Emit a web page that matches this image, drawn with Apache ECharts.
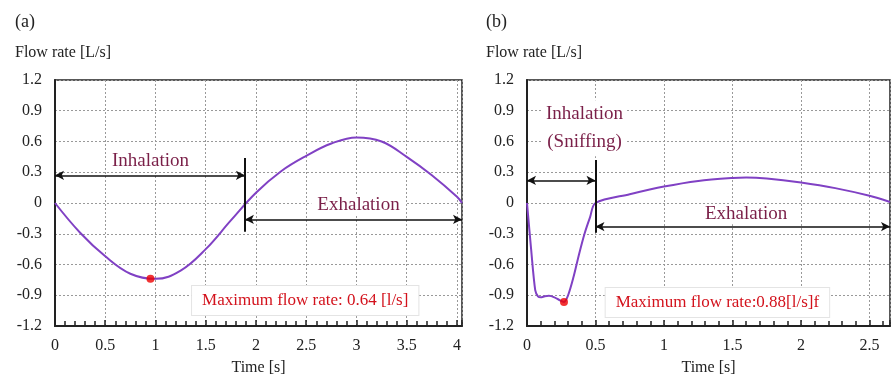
<!DOCTYPE html>
<html>
<head>
<meta charset="utf-8">
<script src="https://cdn.jsdelivr.net/npm/echarts@6/dist/echarts.min.js"></script>
<style>
  html, body { margin: 0; padding: 0; background: #fff; }
  #chart { width: 891px; height: 383px; }
</style>
</head>
<body>
<div id="chart"></div>
<script>
// panel (a): normal breathing
const timeA = [0, 0.25, 0.5, 0.75, 1.0, 1.25, 1.5, 1.75, 2.0, 2.25, 2.5, 2.75, 3.0, 3.25, 3.5, 3.75, 4.0, 4.05];
const flowA = [0, -0.29, -0.52, -0.69, -0.74, -0.66, -0.45, -0.17, 0.1, 0.31, 0.46, 0.58, 0.64, 0.6, 0.45, 0.27, 0.06, 0];
const peakA = [0.95, -0.74];

// panel (b): sniffing
const timeB = [0, 0.03, 0.06, 0.08, 0.1, 0.13, 0.16, 0.2, 0.24, 0.27, 0.3, 0.34, 0.38, 0.42, 0.46, 0.5,
  0.75, 1.0, 1.25, 1.5, 1.6, 1.75, 2.0, 2.25, 2.5, 2.65];
const flowB = [0, -0.45, -0.85, -0.91, -0.92, -0.91, -0.905, -0.92, -0.95, -0.965, -0.9, -0.72, -0.5, -0.3, -0.14, 0,
  0.085, 0.16, 0.215, 0.245, 0.25, 0.24, 0.2, 0.145, 0.07, 0.01];
const peakB = [0.27, -0.965];

const xMaxA = 4.05, xMaxB = 2.65;
const yTicks = ['1.2', '0.9', '0.6', '0.3', '0', '-0.3', '-0.6', '-0.9', '-1.2'];

// annotations (data coords)
const splitA = 1.89, splitB = 0.5;
const inhaleArrowY = [0.27, 0.22];
const exhaleArrowY = [-0.16, -0.23];
const dividerY = [[0.44, -0.28], [0.42, -0.29]];
const inhaleLabel = [[0.95, 0.41, 'Inhalation'], [0.42, 0.73, 'Inhalation\n(Sniffing)']];
const exhaleLabel = [[3.02, -0.02, 'Exhalation'], [1.6, -0.11, 'Exhalation']];
const maxLabel = [[2.49, -0.95, 'Maximum flow rate: 0.64 [l/s]'], [1.39, -0.97, 'Maximum flow rate:0.88[l/s]f']];

const FONT = '"Liberation Serif", "DejaVu Serif", serif';
const curveColor = '#8041c4';
const maroon = '#7a1f48';
const red = '#d3121c';

const chart = echarts.init(document.getElementById('chart'));

function xAxisFor(idx, max) {
  return {
    type: 'value', gridIndex: idx, min: 0, max: max, interval: 0.5,
    name: 'Time [s]', nameLocation: 'middle', nameGap: 34,
    nameTextStyle: { fontFamily: FONT, fontSize: 16, color: '#222' },
    axisLine: { onZero: false, lineStyle: { color: '#222', width: 2 } },
    axisTick: { show: true, inside: true, length: 6, lineStyle: { color: '#222', width: 1.5 } },
    minorTick: { show: true, splitNumber: 5, length: 5, lineStyle: { color: '#222', width: 1.5 } },
    axisLabel: { showMaxLabel: false, margin: 12, fontFamily: FONT, fontSize: 16, color: '#222',
      formatter: v => String(+v.toFixed(1)) },
    splitLine: { show: true, lineStyle: { color: '#999', type: [2, 2], width: 1 } }
  };
}

function yAxisFor(idx) {
  return {
    type: 'value', gridIndex: idx, min: -1.2, max: 1.2, interval: 0.3,
    axisLine: { onZero: false, lineStyle: { color: '#222', width: 2 } },
    axisTick: { show: false },
    axisLabel: { margin: 13, fontFamily: FONT, fontSize: 16, color: '#222',
      formatter: v => yTicks.find(t => Math.abs(+t - v) < 1e-6) || '' },
    splitLine: { show: true, lineStyle: { color: '#999', type: [2, 2], width: 1 } }
  };
}

function annotations(i, split, xMax) {
  const arrowStyle = { color: '#111', width: 1.5, type: 'solid' };
  return {
    markLine: {
      silent: true, animation: false,
      label: { show: false },
      data: [
        [{ coord: [0, inhaleArrowY[i]], symbol: 'arrow', lineStyle: arrowStyle },
         { coord: [split, inhaleArrowY[i]], symbol: 'arrow' }],
        [{ coord: [split, exhaleArrowY[i]], symbol: 'arrow', lineStyle: arrowStyle },
         { coord: [xMax, exhaleArrowY[i]], symbol: 'arrow' }],
        [{ coord: [split, dividerY[i][0]], symbol: 'none', lineStyle: { color: '#111', width: 2, type: 'solid' } },
         { coord: [split, dividerY[i][1]], symbol: 'none' }]
      ],
      symbolSize: [7, 9]
    },
    markPoint: {
      silent: true, animation: false,
      symbol: 'rect', symbolSize: 0,
      data: [
        { coord: [inhaleLabel[i][0], inhaleLabel[i][1]],
          label: { show: true, position: 'inside', formatter: inhaleLabel[i][2], fontFamily: FONT,
            fontSize: 19, color: maroon, lineHeight: i === 1 ? 28 : 20, backgroundColor: '#fff', padding: [0, 4] } },
        { coord: [exhaleLabel[i][0], exhaleLabel[i][1]],
          label: { show: true, position: 'inside', formatter: exhaleLabel[i][2], fontFamily: FONT,
            fontSize: 19, color: maroon, lineHeight: 20, backgroundColor: '#fff', padding: [0, 6] } },
        { coord: [maxLabel[i][0], maxLabel[i][1]],
          label: { show: true, position: 'inside', formatter: maxLabel[i][2], fontFamily: FONT,
            fontSize: 17, color: red, backgroundColor: '#fff', borderColor: '#e4e4e4', borderWidth: 1,
            padding: [6, 10] } }
      ]
    }
  };
}

chart.setOption({
  animation: false,
  textStyle: { fontFamily: FONT },
  title: [
    { text: '(a)', left: 10, top: 8, textStyle: { fontFamily: FONT, fontSize: 18, fontWeight: 'normal', color: '#222' } },
    { text: 'Flow rate [L/s]', left: 10, top: 40, textStyle: { fontFamily: FONT, fontSize: 16, fontWeight: 'normal', color: '#222' } },
    { text: '(b)', left: 481, top: 8, textStyle: { fontFamily: FONT, fontSize: 18, fontWeight: 'normal', color: '#222' } },
    { text: 'Flow rate [L/s]', left: 481, top: 40, textStyle: { fontFamily: FONT, fontSize: 16, fontWeight: 'normal', color: '#222' } }
  ],
  grid: [
    { left: 55, top: 80, width: 407, height: 246, show: true, borderColor: '#222', borderWidth: 1.5 },
    { left: 527, top: 80, width: 363, height: 246, show: true, borderColor: '#222', borderWidth: 1.5 }
  ],
  xAxis: [xAxisFor(0, xMaxA), xAxisFor(1, xMaxB)],
  yAxis: [yAxisFor(0), yAxisFor(1)],
  series: [
    Object.assign({
      type: 'line', xAxisIndex: 0, yAxisIndex: 0, smooth: 0.4, showSymbol: false,
      lineStyle: { color: curveColor, width: 2 },
      data: timeA.map((t, i) => [t, flowA[i]]), z: 3
    }, annotations(0, splitA, xMaxA)),
    Object.assign({
      type: 'line', xAxisIndex: 1, yAxisIndex: 1, smooth: 0.3, showSymbol: false,
      lineStyle: { color: curveColor, width: 2 },
      data: timeB.map((t, i) => [t, flowB[i]]), z: 3
    }, annotations(1, splitB, xMaxB)),
    { type: 'scatter', xAxisIndex: 0, yAxisIndex: 0, symbolSize: 8, itemStyle: { color: '#e00' }, data: [peakA], z: 5 },
    { type: 'scatter', xAxisIndex: 1, yAxisIndex: 1, symbolSize: 8, itemStyle: { color: '#e00' }, data: [peakB], z: 5 }
  ]
});
</script>
</body>
</html>
